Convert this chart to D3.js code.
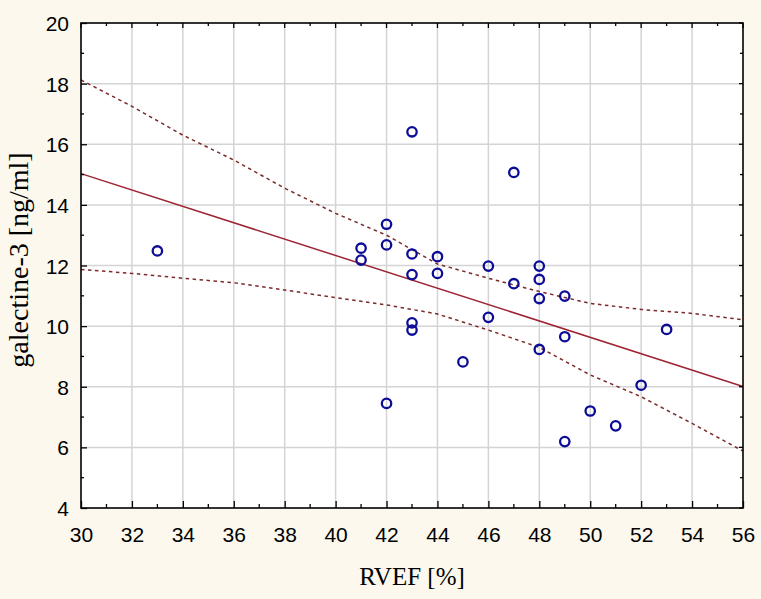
<!DOCTYPE html>
<html>
<head>
<meta charset="utf-8">
<script src="https://cdn.jsdelivr.net/npm/d3@7"></script>
<style>
  body { margin: 0; background: #fcf8ee; }
  svg { display: block; }
</style>
</head>
<body>
<svg width="761" height="599"></svg>
<script>
// RVEF [%] vs galectine-3 [ng/ml]
const rvef = [33, 41, 41, 42, 42, 42, 43, 43, 43, 43, 43, 44, 44, 45, 46, 46, 47, 47, 48, 48, 48, 48, 49, 49, 49, 50, 51, 52, 53];
const galectin = [12.48, 12.57, 12.18, 13.36, 12.68, 7.45, 16.41, 12.38, 11.70, 10.11, 9.87, 12.29, 11.74, 8.82, 11.98, 10.29, 15.07, 11.40, 11.98, 11.54, 10.91, 9.23, 10.99, 9.65, 6.19, 7.20, 6.71, 8.05, 9.89];

// regression line and 95% confidence bands
const fitX = [30, 56];
const fitY = [15.03, 8.01];
const bandX = [30, 32, 34, 36, 38, 40, 42, 44, 46, 48, 50, 52, 54, 56];
const bandUpper = [18.12, 17.25, 16.30, 15.48, 14.55, 13.72, 13.00, 12.05, 11.58, 11.14, 10.75, 10.55, 10.42, 10.21];
const bandLower = [11.87, 11.74, 11.58, 11.43, 11.19, 10.94, 10.70, 10.40, 9.87, 9.30, 8.39, 7.67, 6.79, 5.88];

const xTicks = [30, 32, 34, 36, 38, 40, 42, 44, 46, 48, 50, 52, 54, 56];
const yTicks = [4, 6, 8, 10, 12, 14, 16, 18, 20];
const xMinor = [31, 33, 35, 37, 39, 41, 43, 45, 47, 49, 51, 53, 55];
const yMinor = [5, 7, 9, 11, 13, 15, 17, 19];

let svg = d3.select("svg");
let margin = { top: 23, right: 18, bottom: 91, left: 81 };
let width = +svg.attr("width") - margin.left - margin.right;
let height = +svg.attr("height") - margin.top - margin.bottom;

let x = d3.scaleLinear().domain([30, 56]).range([0, width]);
let y = d3.scaleLinear().domain([4, 20]).range([height, 0]);

let g = svg.append("g").attr("transform", `translate(${margin.left}, ${margin.top})`);

g.append("rect")
  .attr("width", width)
  .attr("height", height)
  .attr("fill", "#fff");

// grid
g.append("g")
  .selectAll("line")
  .data(xTicks.slice(1, -1))
  .enter().append("line")
  .attr("x1", d => x(d)).attr("x2", d => x(d))
  .attr("y1", 0).attr("y2", height)
  .attr("stroke", "#d4d4d4")
  .attr("stroke-width", 1.5);

g.append("g")
  .selectAll("line")
  .data(yTicks.slice(1, -1))
  .enter().append("line")
  .attr("y1", d => y(d)).attr("y2", d => y(d))
  .attr("x1", 0).attr("x2", width)
  .attr("stroke", "#d4d4d4")
  .attr("stroke-width", 1.5);

// confidence bands
let line = d3.line().x(d => x(d[0])).y(d => y(d[1]));

g.append("path")
  .datum(bandX.map((v, i) => [v, bandUpper[i]]))
  .attr("d", line)
  .attr("fill", "none")
  .attr("stroke", "#7c2a2a")
  .attr("stroke-width", 1.5)
  .attr("stroke-dasharray", "3.5,3.5");

g.append("path")
  .datum(bandX.map((v, i) => [v, bandLower[i]]))
  .attr("d", line)
  .attr("fill", "none")
  .attr("stroke", "#7c2a2a")
  .attr("stroke-width", 1.5)
  .attr("stroke-dasharray", "3.5,3.5");

// regression line
g.append("path")
  .datum(fitX.map((v, i) => [v, fitY[i]]))
  .attr("d", line)
  .attr("fill", "none")
  .attr("stroke", "#9e2433")
  .attr("stroke-width", 1.5);

// points
g.append("g")
  .selectAll("circle")
  .data(rvef.map((v, i) => [v, galectin[i]]))
  .enter().append("circle")
  .attr("cx", d => x(d[0]))
  .attr("cy", d => y(d[1]))
  .attr("r", 4.7)
  .attr("fill", "none")
  .attr("stroke", "#0c0c96")
  .attr("stroke-width", 2.3);

// axes, ticks pointing inside
let xAxis = d3.axisBottom(x).tickValues(xTicks).tickSize(-7).tickPadding(19);
let yAxis = d3.axisLeft(y).tickValues(yTicks).tickSize(-6).tickPadding(12);

let xg = g.append("g").attr("transform", `translate(0, ${height})`).call(xAxis);
let yg = g.append("g").call(yAxis);

[xg, yg].forEach(a => {
  a.select(".domain").remove();
  a.selectAll("line").attr("stroke", "#000").attr("stroke-width", 1.3);
  a.selectAll("text")
    .attr("font-family", "Liberation Sans, Arial, sans-serif")
    .attr("font-size", "21px")
    .attr("fill", "#000");
});

xg.selectAll("text").attr("dy", "0.71em");
yg.selectAll("text").attr("dy", "0.36em");

// minor ticks bottom and top
g.append("g").selectAll("line").data(xMinor).enter().append("line")
  .attr("x1", d => x(d)).attr("x2", d => x(d))
  .attr("y1", height).attr("y2", height - 4)
  .attr("stroke", "#000").attr("stroke-width", 1.3);

g.append("g").selectAll("line").data(xMinor).enter().append("line")
  .attr("x1", d => x(d)).attr("x2", d => x(d))
  .attr("y1", 0).attr("y2", 3)
  .attr("stroke", "#000").attr("stroke-width", 1.3);

g.append("g").selectAll("line").data(xTicks).enter().append("line")
  .attr("x1", d => x(d)).attr("x2", d => x(d))
  .attr("y1", 0).attr("y2", 5)
  .attr("stroke", "#000").attr("stroke-width", 1.3);

// minor ticks left and right
g.append("g").selectAll("line").data(yMinor).enter().append("line")
  .attr("y1", d => y(d)).attr("y2", d => y(d))
  .attr("x1", 0).attr("x2", 3)
  .attr("stroke", "#000").attr("stroke-width", 1.3);

g.append("g").selectAll("line").data(yMinor).enter().append("line")
  .attr("y1", d => y(d)).attr("y2", d => y(d))
  .attr("x1", width).attr("x2", width - 3)
  .attr("stroke", "#000").attr("stroke-width", 1.3);

g.append("g").selectAll("line").data(yTicks).enter().append("line")
  .attr("y1", d => y(d)).attr("y2", d => y(d))
  .attr("x1", width).attr("x2", width - 4)
  .attr("stroke", "#000").attr("stroke-width", 1.3);

// frame
g.append("rect")
  .attr("width", width)
  .attr("height", height)
  .attr("fill", "none")
  .attr("stroke", "#000")
  .attr("stroke-width", 1.6);

// axis titles
svg.append("text")
  .attr("x", margin.left + width / 2)
  .attr("y", 585)
  .attr("text-anchor", "middle")
  .attr("font-family", "Liberation Serif, Times New Roman, serif")
  .attr("font-size", "25px")
  .attr("fill", "#000")
  .text("RVEF [%]");

svg.append("text")
  .attr("transform", `translate(28, 260) rotate(-90)`)
  .attr("text-anchor", "middle")
  .attr("font-family", "Liberation Serif, Times New Roman, serif")
  .attr("font-size", "28px")
  .attr("fill", "#000")
  .text("galectine-3 [ng/ml]");
</script>
</body>
</html>
